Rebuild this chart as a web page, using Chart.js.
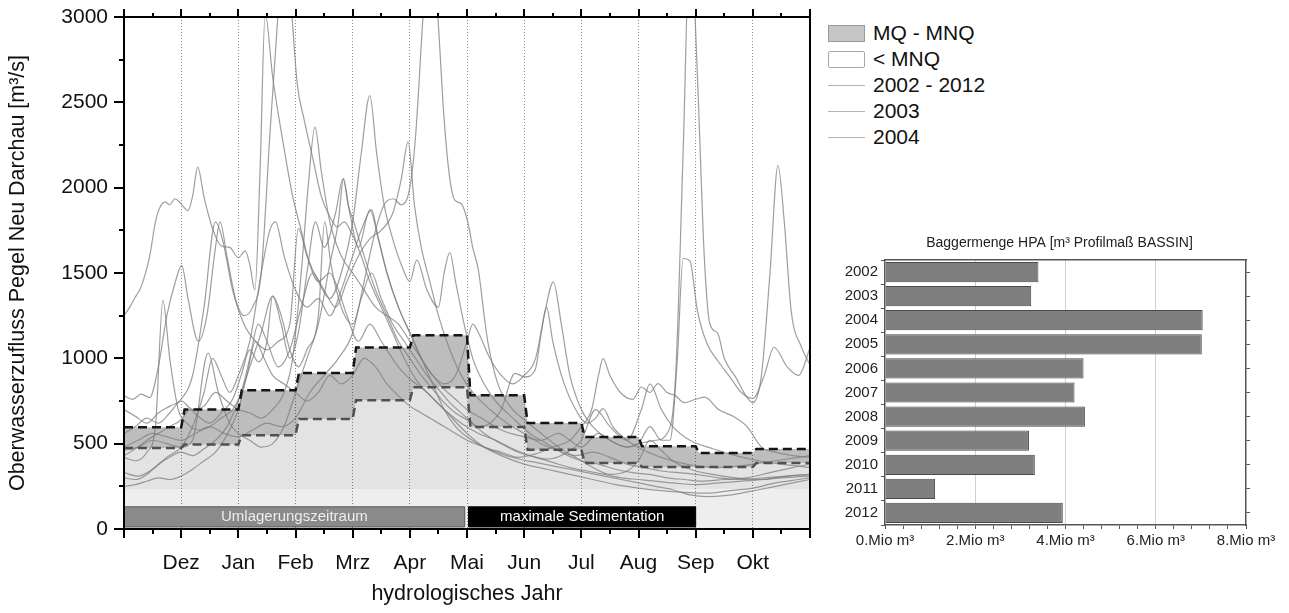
<!DOCTYPE html>
<html>
<head>
<meta charset="utf-8">
<script src="https://cdn.jsdelivr.net/npm/chart.js@4.4.1/dist/chart.umd.min.js"></script>
<style>
  body { margin: 0; background: #fff; font-family: 'Liberation Sans', Arial, sans-serif; }
  #wrap { position: relative; width: 1289px; height: 613px; overflow: hidden; }
  #mainChart { position: absolute; left: 0; top: 0; }
  #barChart { position: absolute; left: 830px; top: 225px; }
  #legend { position: absolute; left: 828px; top: 20px; font-size: 21px; color: #111; }
  #legend .row { height: 26px; display: flex; align-items: center; }
  #legend .sw { width: 37px; height: 17px; margin-right: 8px; box-sizing: border-box; }
  #legend .band { background: #c6c6c6; border: 1px solid #9a9a9a; }
  #legend .low { background: #fff; border: 1px solid #a8a8a8; border-radius: 2px; }
  #legend .ln { height: 1px; background: #b4b4b4; }
</style>
</head>
<body>
<div id="wrap">
  <canvas id="mainChart" width="820" height="613"></canvas>
  <div id="legend">
    <div class="row"><span class="sw band"></span>MQ - MNQ</div>
    <div class="row"><span class="sw low"></span>&lt; MNQ</div>
    <div class="row"><span class="sw ln"></span>2002 - 2012</div>
    <div class="row"><span class="sw ln"></span>2003</div>
    <div class="row"><span class="sw ln"></span>2004</div>
  </div>
  <canvas id="barChart" width="459" height="388"></canvas>
</div>
<script>
// months of the hydrological year (x = 0 is 1 Nov)
const months = ['Nov', 'Dez', 'Jan', 'Feb', 'Mrz', 'Apr', 'Mai', 'Jun', 'Jul', 'Aug', 'Sep', 'Okt'];

// monthly MQ and MNQ [m³/s]
const mqValues = [596, 700, 813, 914, 1063, 1135, 783, 621, 539, 485, 445, 469];
const mnqValues = [475, 495, 550, 645, 755, 830, 598, 465, 387, 363, 363, 387];
const baseLevel = 235;

// periods shown as bars near the bottom
const periodLabels = ['Umlagerungszeitraum', 'maximale Sedimentation'];
const periodStart = [0, 6.03];
const periodEnd = [5.96, 10];
const periodLow = 12;
const periodHigh = 130;

// daily discharge as [month, m³/s]
const q2002 = [[0,430],[0.2,470],[0.4,520],[0.6,560],[0.8,600],[1.0,640],[1.15,700],[1.3,660],[1.5,620],[1.7,680],[1.9,760],[2.05,900],[2.2,1050],[2.35,980],[2.5,1100],[2.6,1365],[2.75,1200],[2.9,1000],[3.05,1150],[3.2,1500],[3.35,1800],[3.5,1650],[3.7,1850],[3.83,2050],[3.95,1850],[4.1,1650],[4.3,1870],[4.45,1700],[4.6,1500],[4.8,1300],[5.0,1150],[5.2,1000],[5.4,900],[5.6,820],[5.8,760],[6.0,700],[6.3,640],[6.6,580],[7.0,540],[7.3,520],[7.6,560],[7.8,520],[8.0,480],[8.3,560],[8.5,520],[8.8,480],[9.0,500],[9.3,520],[9.5,560],[9.65,900],[9.78,2200],[9.9,3450],[9.99,3000],[10.07,2300],[10.15,1600],[10.25,1200],[10.38,1150],[10.5,1000],[10.7,890],[10.9,770],[11.0,740],[11.15,900],[11.3,1500],[11.44,2130],[11.55,1800],[11.67,1280],[11.85,1066],[12,960]];
const q2003 = [[0,1250],[0.1,1300],[0.19,1355],[0.3,1420],[0.45,1600],[0.55,1800],[0.63,1885],[0.72,1915],[0.8,1900],[0.89,1935],[1.0,1905],[1.12,1865],[1.2,1950],[1.29,2120],[1.4,1945],[1.56,1750],[1.7,1660],[1.85,1650],[2.0,1590],[2.12,1630],[2.2,1550],[2.29,1400],[2.38,2100],[2.47,3020],[2.6,2650],[2.78,2270],[2.95,1950],[3.1,1750],[3.25,1550],[3.4,1450],[3.6,1500],[3.75,1400],[3.9,1250],[4.1,1100],[4.3,1200],[4.5,1100],[4.8,950],[5.0,880],[5.3,800],[5.6,700],[6.0,560],[6.3,480],[6.6,430],[7.0,380],[7.4,350],[7.8,320],[8.2,290],[8.6,260],[9.0,240],[9.4,225],[9.8,215],[10.2,210],[10.6,225],[11.0,240],[11.4,270],[11.8,290],[12,300]];
const q2004 = [[0,300],[0.2,290],[0.4,320],[0.6,380],[0.8,420],[1.0,450],[1.2,430],[1.4,470],[1.6,520],[1.8,600],[2.0,750],[2.2,950],[2.4,1150],[2.6,1365],[2.75,1250],[2.9,1050],[3.05,950],[3.2,1050],[3.4,1250],[3.51,1800],[3.62,1550],[3.8,1300],[4.0,1200],[4.15,1350],[4.33,1500],[4.5,1350],[4.7,1200],[4.9,1100],[5.1,1000],[5.3,900],[5.5,820],[5.7,740],[6.0,650],[6.3,560],[6.6,500],[6.9,450],[7.2,420],[7.5,390],[7.8,360],[8.1,340],[8.4,320],[8.7,300],[9.0,290],[9.3,280],[9.6,270],[10.0,260],[10.4,270],[10.8,280],[11.2,290],[11.6,310],[12,320]];
const q2005 = [[0,420],[0.2,400],[0.4,450],[0.55,600],[0.68,1340],[0.8,1000],[0.95,700],[1.1,620],[1.3,580],[1.5,600],[1.7,650],[1.9,700],[2.05,800],[2.2,1000],[2.35,1200],[2.5,1100],[2.7,950],[2.9,1050],[3.1,1300],[3.3,1500],[3.5,1400],[3.7,1300],[3.9,1450],[4.1,1600],[4.3,1700],[4.5,1750],[4.7,1850],[4.85,2050],[4.97,2270],[5.08,1900],[5.2,1650],[5.35,1450],[5.5,1250],[5.7,1050],[5.9,900],[6.1,800],[6.4,700],[6.7,620],[7.0,560],[7.3,500],[7.6,460],[7.9,430],[8.2,450],[8.5,420],[8.8,380],[9.1,360],[9.4,340],[9.7,330],[10.0,320],[10.4,300],[10.8,290],[11.2,300],[11.6,310],[12,320]];
const q2006 = [[0,480],[0.25,520],[0.5,560],[0.75,540],[1.0,520],[1.25,560],[1.5,600],[1.75,560],[2.0,540],[2.25,580],[2.5,620],[2.75,600],[3.0,650],[3.25,800],[3.5,900],[3.75,1000],[4.0,1150],[4.2,1450],[4.4,1750],[4.55,1900],[4.71,1935],[4.85,1900],[5.0,2000],[5.1,2300],[5.23,3000],[5.35,3550],[5.49,3000],[5.6,2400],[5.7,2050],[5.79,1925],[5.9,1906],[6.02,1790],[6.1,1650],[6.2,1516],[6.3,1250],[6.37,1086],[6.54,850],[6.75,720],[7.0,640],[7.3,560],[7.6,480],[7.9,420],[8.2,360],[8.5,320],[8.8,340],[9.0,400],[9.2,520],[9.4,460],[9.6,400],[9.9,350],[10.3,320],[10.7,300],[11.1,290],[11.5,300],[12,310]];
const q2007 = [[0,330],[0.25,310],[0.5,350],[0.75,420],[1.0,480],[1.2,600],[1.4,800],[1.55,1000],[1.7,900],[1.85,800],[2.0,900],[2.2,1100],[2.4,1500],[2.55,1750],[2.65,1800],[2.8,1600],[3.0,1400],[3.2,1300],[3.4,1350],[3.6,1250],[3.8,1400],[4.0,1600],[4.15,1750],[4.33,1870],[4.45,1700],[4.6,1500],[4.8,1300],[5.0,1150],[5.2,1000],[5.4,850],[5.6,700],[5.8,600],[6.0,540],[6.3,480],[6.6,450],[6.9,420],[7.2,440],[7.5,480],[7.8,520],[8.0,600],[8.18,700],[8.3,900],[8.38,998],[8.5,900],[8.7,794],[8.9,760],[9.05,832],[9.2,800],[9.34,852],[9.5,800],[9.64,783],[9.8,740],[10.0,760],[10.16,773],[10.4,700],[10.68,656],[10.9,600],[11.15,480],[11.4,450],[11.7,430],[12,420]];
const q2008 = [[0,700],[0.2,660],[0.4,620],[0.6,680],[0.8,720],[1.0,760],[1.2,900],[1.4,1300],[1.6,1800],[1.72,1700],[1.9,1400],[2.1,1200],[2.3,1100],[2.5,1050],[2.7,1100],[2.9,1200],[3.05,1760],[3.2,1600],[3.4,1450],[3.6,1350],[3.8,1500],[4.0,1800],[4.15,2200],[4.3,2540],[4.42,2200],[4.55,1900],[4.7,1700],[4.85,1550],[5.0,1450],[5.12,1575],[5.3,1400],[5.5,1300],[5.6,1500],[5.7,1620],[5.8,1450],[5.95,1200],[6.1,1000],[6.3,850],[6.5,750],[6.8,650],[7.1,560],[7.4,500],[7.7,440],[8.0,400],[8.3,380],[8.6,350],[8.9,330],[9.2,320],[9.5,300],[9.8,290],[10.1,280],[10.5,290],[10.9,300],[11.3,330],[11.7,360],[12,380]];
const q2009 = [[0,460],[0.25,480],[0.5,520],[0.75,500],[1.0,480],[1.2,520],[1.47,1030],[1.65,800],[1.85,620],[2.0,560],[2.2,520],[2.4,480],[2.6,500],[2.8,600],[3.0,800],[3.2,1000],[3.4,1200],[3.6,1550],[3.75,1800],[3.84,2054],[3.92,1900],[4.01,1809],[4.2,1600],[4.4,1400],[4.6,1250],[4.8,1100],[5.0,1000],[5.2,900],[5.4,820],[5.6,740],[5.8,680],[6.0,640],[6.2,600],[6.4,620],[6.6,700],[6.84,912],[7.01,891],[7.19,930],[7.3,1150],[7.39,1301],[7.5,1100],[7.7,850],[7.9,700],[8.1,620],[8.25,650],[8.38,705],[8.55,600],[8.8,520],[9.1,460],[9.4,420],[9.7,390],[10.0,370],[10.4,360],[10.8,370],[11.2,390],[11.6,410],[12,430]];
const q2010 = [[0,560],[0.2,600],[0.4,650],[0.6,620],[0.8,680],[1.0,750],[1.2,700],[1.4,720],[1.6,800],[1.8,750],[2.0,700],[2.2,680],[2.4,650],[2.6,700],[2.8,800],[2.95,1000],[3.1,1500],[3.22,2000],[3.34,2355],[3.45,2100],[3.6,1800],[3.8,1600],[4.0,1500],[4.2,1400],[4.4,1300],[4.6,1250],[4.8,1200],[5.0,1100],[5.2,1000],[5.4,900],[5.6,850],[5.8,900],[6.0,1100],[6.1,1200],[6.2,1150],[6.4,1000],[6.6,900],[6.8,850],[7.0,900],[7.2,1000],[7.35,1250],[7.51,1447],[7.65,1200],[7.8,900],[8.0,700],[8.2,600],[8.5,520],[8.8,480],[9.0,500],[9.2,600],[9.4,520],[9.55,520],[9.68,1000],[9.78,1585],[9.9,1570],[10.03,1280],[10.2,1085],[10.4,980],[10.6,890],[10.8,800],[11.0,765],[11.2,900],[11.37,1065],[11.6,950],[11.8,900],[12,1060]];
const q2011 = [[0,780],[0.15,760],[0.3,790],[0.45,770],[0.6,950],[0.75,1250],[0.9,1450],[1.01,1545],[1.12,1350],[1.3,1100],[1.45,1250],[1.6,1650],[1.68,1800],[1.8,1600],[1.95,1350],[2.1,1250],[2.25,1300],[2.4,1500],[2.55,2300],[2.69,3000],[2.82,3550],[2.94,3000],[3.03,2610],[3.15,2400],[3.31,2160],[3.45,1950],[3.6,1830],[3.73,1770],[3.85,1800],[4.0,1720],[4.15,1600],[4.3,1450],[4.5,1300],[4.7,1150],[4.9,1000],[5.1,880],[5.3,800],[5.6,700],[5.9,620],[6.2,560],[6.5,520],[6.8,470],[7.1,430],[7.4,410],[7.7,440],[8.0,520],[8.25,700],[8.5,600],[8.8,520],[9.05,700],[9.2,850],[9.4,700],[9.6,600],[9.9,520],[10.3,470],[10.7,430],[11.1,400],[11.5,380],[12,360]];
const q2012 = [[0,250],[0.2,260],[0.4,280],[0.6,300],[0.8,290],[1.0,310],[1.2,350],[1.4,400],[1.6,450],[1.8,550],[2.0,700],[2.15,900],[2.3,1100],[2.45,1000],[2.6,900],[2.8,850],[3.0,800],[3.2,750],[3.4,800],[3.6,900],[3.8,850],[4.0,900],[4.2,1000],[4.4,950],[4.6,850],[4.8,780],[5.0,720],[5.2,680],[5.4,640],[5.6,600],[5.8,560],[6.0,520],[6.3,480],[6.6,440],[6.9,410],[7.2,390],[7.5,370],[7.8,350],[8.1,330],[8.4,310],[8.7,290],[9.0,270],[9.3,250],[9.6,230],[9.9,200],[10.2,190],[10.5,195],[10.8,210],[11.1,230],[11.4,250],[11.7,270],[12,290]];
const hydroYears = [q2002, q2003, q2004, q2005, q2006, q2007, q2008, q2009, q2010, q2011, q2012];

// dredged volumes HPA [Mio m³]
const years = ['2002', '2003', '2004', '2005', '2006', '2007', '2008', '2009', '2010', '2011', '2012'];
const dredge = [3.4, 3.24, 7.04, 7.02, 4.4, 4.2, 4.43, 3.19, 3.32, 1.11, 3.94];

Chart.defaults.font.family = "'Liberation Sans', Arial, sans-serif";
Chart.defaults.color = '#111';

function stepPoints(vals) {
    const pts = [];
    vals.forEach((v, i) => {
        pts.push({ x: i === 0 ? 0 : i + 0.06, y: v });
        pts.push({ x: i + 1, y: v });
    });
    return pts;
}

const toXY = arr => arr.map(p => ({ x: p[0], y: p[1] }));

// scales must not push the plot area inwards for overhanging labels
const noOverhang = (s, size, key) => {
    s[key] = size;
    s.paddingTop = 0; s.paddingBottom = 0; s.paddingLeft = 0; s.paddingRight = 0;
};

const datasets = [];
// 0: light band at the bottom
datasets.push({
    data: [{ x: 0, y: baseLevel }, { x: 12, y: baseLevel }],
    fill: 'origin', backgroundColor: 'rgba(0,0,0,0.065)', borderWidth: 0, order: 10
});
// 1: area below MNQ
datasets.push({
    data: stepPoints(mnqValues),
    fill: { target: 0 }, backgroundColor: 'rgba(0,0,0,0.11)',
    borderColor: '#505050', borderWidth: 2.5, borderDash: [9, 5], order: 1
});
// 2: MQ - MNQ band
datasets.push({
    data: stepPoints(mqValues),
    fill: { target: 1 }, backgroundColor: 'rgba(0,0,0,0.26)',
    borderColor: '#151515', borderWidth: 2.5, borderDash: [9, 5], order: 1
});
hydroYears.forEach(q => {
    datasets.push({
        data: toXY(q), fill: false, borderColor: 'rgba(125,125,125,0.75)', borderWidth: 1.2,
        cubicInterpolationMode: 'monotone', order: 3
    });
});
const periodColors = ['#8a8a8a', '#000000'];
const periodBorders = ['#5a5a5a', '#000000'];
periodLabels.forEach((name, i) => {
    datasets.push({
        data: [
            { x: periodStart[i], y: periodLow }, { x: periodEnd[i], y: periodLow },
            { x: periodEnd[i], y: periodHigh }, { x: periodStart[i], y: periodHigh },
            { x: periodStart[i], y: periodLow }
        ],
        fill: 'shape', backgroundColor: periodColors[i], borderColor: periodBorders[i],
        borderWidth: 1, tension: 0, order: 0
    });
});

const frameAndTicks = {
    id: 'frameAndTicks',
    afterDatasetsDraw(chart) {
        const ctx = chart.ctx;
        const xs = chart.scales.x, ys = chart.scales.y;
        ctx.save();
        ctx.font = "15px 'Liberation Sans', Arial, sans-serif";
        ctx.textAlign = 'center';
        ctx.textBaseline = 'middle';
        periodLabels.forEach((name, i) => {
            ctx.fillStyle = i === 0 ? '#eeeeee' : '#ffffff';
            ctx.fillText(name, xs.getPixelForValue((periodStart[i] + periodEnd[i]) / 2),
                ys.getPixelForValue((periodLow + periodHigh) / 2));
        });
        ctx.restore();
    },
    afterDraw(chart) {
        const ctx = chart.ctx;
        const a = chart.chartArea;
        const xs = chart.scales.x, ys = chart.scales.y;
        ctx.save();
        ctx.strokeStyle = '#000';
        ctx.lineWidth = 2;
        ctx.strokeRect(a.left, a.top, a.right - a.left, a.bottom - a.top);
        ctx.beginPath();
        xs.ticks.forEach(t => {
            const px = Math.round(xs.getPixelForValue(t.value));
            const big = Number.isInteger(t.value);
            ctx.moveTo(px, a.bottom); ctx.lineTo(px, a.bottom + (big ? 9 : 5));
            ctx.moveTo(px, a.top); ctx.lineTo(px, a.top - (big ? 8 : 4));
        });
        ys.ticks.forEach(t => {
            const py = Math.round(ys.getPixelForValue(t.value));
            ctx.moveTo(a.left, py); ctx.lineTo(a.left - (t.value % 500 === 0 ? 10 : 5), py);
        });
        ctx.stroke();
        ctx.restore();
    }
};

new Chart(document.getElementById('mainChart'), {
    type: 'line',
    data: { datasets: datasets },
    options: {
        responsive: false,
        animation: false,
        layout: { padding: { top: 17, right: 10, left: 0, bottom: 0 } },
        elements: { point: { radius: 0 } },
        plugins: {
            legend: { display: false },
            tooltip: { enabled: false },
            filler: { drawTime: 'beforeDatasetsDraw' }
        },
        scales: {
            x: {
                type: 'linear', min: 0, max: 12,
                afterFit: s => noOverhang(s, 84, 'height'),
                ticks: {
                    stepSize: 0.5, padding: 22, font: { size: 21 }, maxRotation: 0, autoSkip: false,
                    callback: v => (Number.isInteger(v) && v > 0 && v < 12) ? months[v] : ''
                },
                grid: {
                    drawTicks: false,
                    color: c => (c.tick && Number.isInteger(c.tick.value) && c.tick.value > 0 && c.tick.value < 12) ? '#8c8c8c' : 'rgba(0,0,0,0)'
                },
                border: { display: false, dash: [1, 2] },
                title: { display: true, text: 'hydrologisches Jahr', font: { size: 21.5 }, padding: { top: 0, bottom: 6 } }
            },
            y: {
                min: 0, max: 3000,
                afterFit: s => noOverhang(s, 124, 'width'),
                ticks: {
                    stepSize: 250, padding: 16, font: { size: 21 },
                    callback: v => v % 500 === 0 ? v : ''
                },
                grid: { drawOnChartArea: false, drawTicks: false },
                border: { display: false },
                title: { display: true, text: 'Oberwasserzufluss Pegel Neu Darchau [m³/s]', font: { size: 21.5 }, padding: { top: 5, bottom: 0 } }
            }
        }
    },
    plugins: [frameAndTicks]
});

const isMajor = v => Math.abs(v / 2 - Math.round(v / 2)) < 1e-6;

new Chart(document.getElementById('barChart'), {
    type: 'bar',
    data: {
        labels: years,
        datasets: [{
            data: dredge, xAxisID: 'x', yAxisID: 'y',
            backgroundColor: '#7f7f7f', borderColor: '#4a4a4a', borderWidth: 1,
            barPercentage: 0.84, categoryPercentage: 1.0
        }]
    },
    options: {
        indexAxis: 'y',
        responsive: false,
        animation: false,
        layout: { padding: 0 },
        plugins: {
            legend: { display: false },
            tooltip: { enabled: false },
            title: {
                display: true, text: 'Baggermenge HPA [m³ Profilmaß BASSIN]',
                font: { size: 14, weight: 'normal' }, color: '#222', padding: { top: 10, bottom: 8.2 }
            }
        },
        scales: {
            x: {
                type: 'linear', min: 0, max: 8, position: 'bottom',
                afterFit: s => { s.height = 88; },
                ticks: {
                    stepSize: 0.4, padding: 3, font: { size: 15 }, color: '#222', maxRotation: 0, autoSkip: false,
                    callback: v => isMajor(v) ? Math.round(v) + '.Mio m³' : ''
                },
                grid: {
                    tickLength: 4, tickColor: '#555',
                    color: c => (c.tick && isMajor(c.tick.value) && c.tick.value > 0 && c.tick.value < 8) ? '#d0d0d0' : 'rgba(0,0,0,0)'
                },
                border: { color: '#555', width: 1.5 }
            },
            x2: {
                type: 'linear', min: 0, max: 8, position: 'top',
                afterFit: s => { s.height = 0; },
                ticks: { display: false },
                grid: { drawOnChartArea: false, drawTicks: false },
                border: { color: '#555', width: 1.5 }
            },
            y: {
                afterFit: s => { s.width = 55; },
                ticks: { font: { size: 15 }, color: '#222', padding: 3 },
                grid: { drawOnChartArea: false, tickLength: 4, tickColor: '#555' },
                border: { color: '#555', width: 1.5 }
            },
            y2: {
                type: 'category', labels: years, position: 'right', offset: true,
                afterFit: s => { s.width = 43; },
                ticks: { display: false },
                grid: { offset: false, drawOnChartArea: false, tickLength: 4, tickColor: '#555' },
                border: { color: '#555', width: 1.5 }
            }
        }
    }
});
</script>
</body>
</html>
